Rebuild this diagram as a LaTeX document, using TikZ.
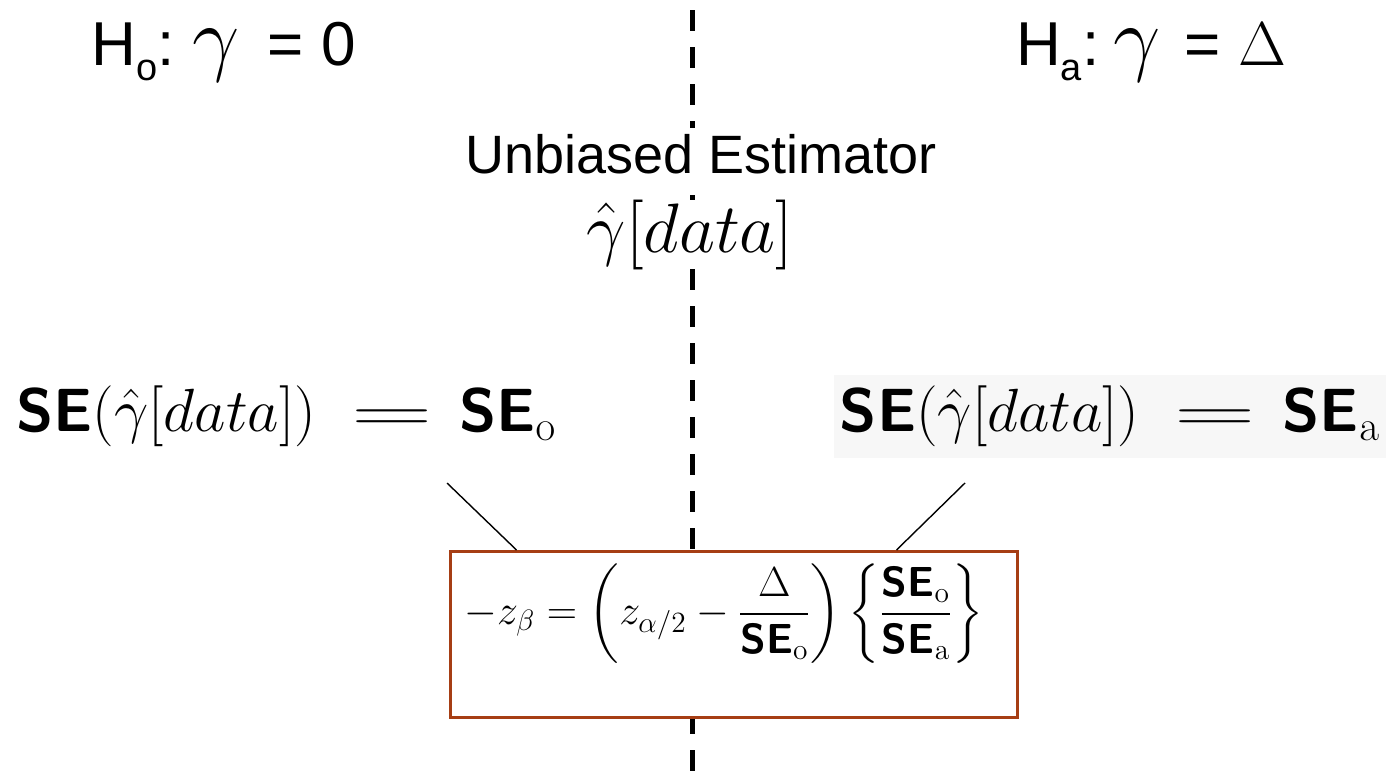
\RequirePackage{fix-cm}
\documentclass[tikz,border=0pt]{standalone}
\usepackage{amsmath}
\usepackage{graphicx}
\usepackage[no-math]{fontspec}
\usepackage{tikz}
\usetikzlibrary{positioning}
\newfontfamily\arialfont{Liberation Sans}
\definecolor{boxrust}{RGB}{166,62,20}
\newcommand{\SEb}{\text{\sffamily\bfseries SE}}
\newcommand{\wideeq}{\hspace{9pt}\mathrel{\scalebox{1.85}[1]{$=$}}\hspace{5pt}}
\newcommand{\hypsub}[1]{\raisebox{-7.5pt}{\fontsize{19}{23}\selectfont #1}}
\newcommand{\biggamma}{{\fontsize{42}{50}\selectfont$\gamma$}}

\begin{document}
\begin{tikzpicture}[
  x=0.5pt, y=-0.5pt,
  hyp/.style={font=\arialfont\fontsize{31}{37}\selectfont, inner sep=0pt},
  lbl/.style={font=\arialfont\fontsize{27}{32}\selectfont, fill=white, inner sep=3pt},
  est/.style={font=\fontsize{35}{42}\selectfont, fill=white, inner sep=0pt},
  sefrm/.style={font=\fontsize{30.5}{37}\selectfont, inner sep=2pt},
  errbox/.style={draw=boxrust, line width=1.5pt, fill=white, minimum width=283.5pt, minimum height=83pt},
  divider/.style={line width=2.5pt, dash pattern=on 10.5pt off 8pt, dash phase=13.5pt},
  lead/.style={line width=0.7pt}
]
\useasboundingbox (0,0) rectangle (1386,776);
\coordinate (divtop) at (692,0);
\coordinate (divbot) at (692,776);
\draw[divider] (divtop) -- (divbot);

\node[hyp, anchor=base west] (h0) at (91,65)
  {H\hypsub{o}:\hspace{9pt}\biggamma\hspace{14pt}=\hspace{9pt}0};
\node[hyp, anchor=base east] (ha) at (1287,65)
  {H\hypsub{a}:\hspace{7pt}\biggamma\hspace{12pt}=\hspace{9pt}$\Delta$};

\node[lbl, anchor=base] (unb) at (701,173) {Unbiased Estimator};
\node[est, anchor=base] (gam) at (690,252) {$\hat{\gamma}[data]$};

\node[sefrm, anchor=base west] (seo) at (12,431)
  {$\SEb(\hat{\gamma}[data]) \wideeq \SEb_{\mathrm{o}}$};
\node[sefrm, fill=black!3, anchor=base east, inner xsep=3pt, text depth=11.5pt, text height=26pt] (sea) at (1386,431)
  {$\SEb(\hat{\gamma}[data]) \wideeq \SEb_{\mathrm{a}}$};

\node[errbox] (box) at (733.5,634.5) {};
\node[font=\fontsize{21}{25}\selectfont] (power) at (724,614)
  {$-z_{\beta} = \left(z_{\alpha/2} - \dfrac{\Delta}{\SEb_{\mathrm{o}}}\right)\left\{\dfrac{\SEb_{\mathrm{o}}}{\SEb_{\mathrm{a}}}\right\}$};

\coordinate (leado) at (447,483);
\coordinate (leada) at (965,483);
\draw[lead] (leado) -- ([xshift=34pt]box.north west);
\draw[lead] (leada) -- ([xshift=-61pt]box.north east);
\end{tikzpicture}
\end{document}
